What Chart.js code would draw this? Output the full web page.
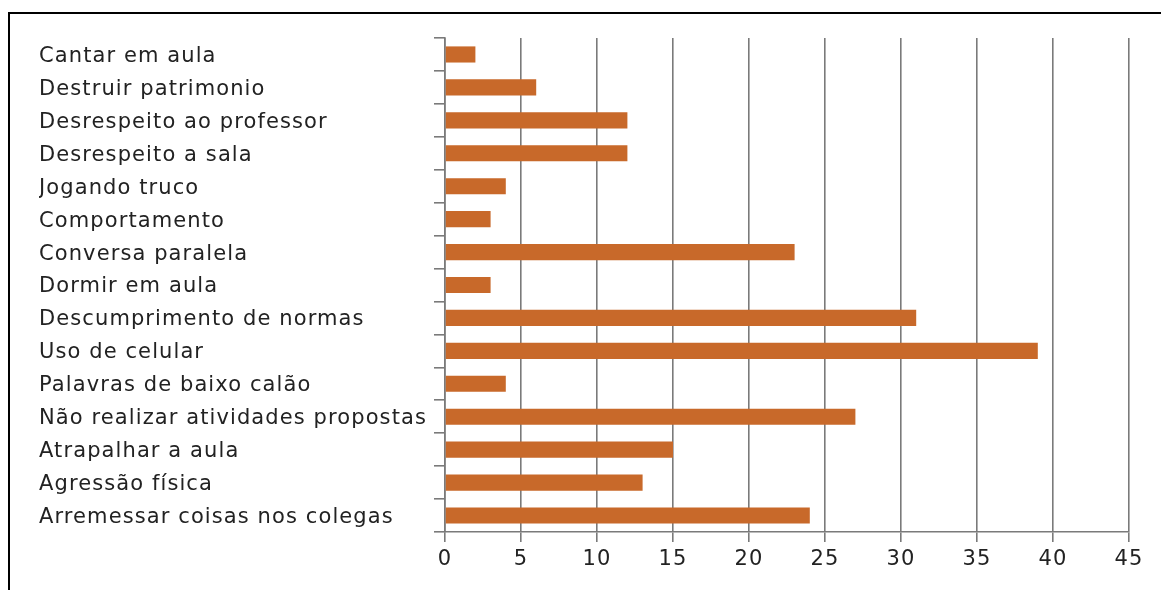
<!DOCTYPE html>
<html>
<head>
<meta charset="utf-8">
<script src="https://cdn.jsdelivr.net/npm/chart.js@4/dist/chart.umd.min.js"></script>
<style>
  html, body { margin: 0; padding: 0; background: #fff; }
  #wrap { position: relative; width: 1161px; height: 590px; }
  #frame {
    position: absolute; left: 8px; top: 12px; right: -4px; bottom: -4px;
    border-top: 2.5px solid #000; border-left: 2.5px solid #000;
    pointer-events: none;
  }
  canvas { display: block; }
</style>
</head>
<body>
<div id="wrap">
  <canvas id="chart" width="1161" height="590"></canvas>
  <div id="frame"></div>
</div>
<script>
// Ocorrências de indisciplina por tipo
const categories = [
  'Cantar em aula',
  'Destruir patrimonio',
  'Desrespeito ao professor',
  'Desrespeito a sala',
  'Jogando truco',
  'Comportamento',
  'Conversa paralela',
  'Dormir em aula',
  'Descumprimento de normas',
  'Uso de celular',
  'Palavras de baixo calão',
  'Não realizar atividades propostas',
  'Atrapalhar a aula',
  'Agressão física',
  'Arremessar coisas nos colegas'
];
const counts = [2, 6, 12, 12, 4, 3, 23, 3, 31, 39, 4, 27, 15, 13, 24];
const xTicks = [0, 5, 10, 15, 20, 25, 30, 35, 40, 45];

const FONT = "'DejaVu Sans', 'Noto Sans', sans-serif";
const GRID = '#7a7a7a';

// slightly wider letter spacing for all axis text
const spacing = {
  id: 'spacing',
  beforeDraw(chart) { chart.ctx.letterSpacing = '1.1px'; }
};

new Chart(document.getElementById('chart'), {
  type: 'bar',
  data: {
    labels: categories,
    datasets: [{
      data: counts,
      backgroundColor: '#c8692a',
      borderWidth: 0,
      categoryPercentage: 1.0,
      barPercentage: 0.49
    }]
  },
  options: {
    indexAxis: 'y',
    responsive: false,
    animation: false,
    layout: { padding: { left: 39, right: 32, top: 38, bottom: 0 } },
    plugins: { legend: { display: false }, tooltip: { enabled: false } },
    scales: {
      x: {
        min: 0, max: 45,
        afterBuildTicks: s => { s.ticks = xTicks.map(v => ({ value: v })); },
        afterFit: s => { s.height = 58; },
        grid: { color: GRID, lineWidth: 1.6, tickLength: 10, tickColor: GRID },
        border: { color: GRID, width: 1.6 },
        ticks: { color: '#222', padding: 5, font: { family: FONT, size: 21 } }
      },
      y: {
        afterFit: s => { s.width = 406; },
        grid: { offset: true, drawOnChartArea: false, tickLength: 11, color: GRID, lineWidth: 1.6 },
        border: { color: GRID, width: 1.6 },
        ticks: { crossAlign: 'far', color: '#222', padding: 4, labelOffset: 2, autoSkip: false, font: { family: FONT, size: 21 } }
      }
    }
  },
  plugins: [spacing]
});
</script>
</body>
</html>
